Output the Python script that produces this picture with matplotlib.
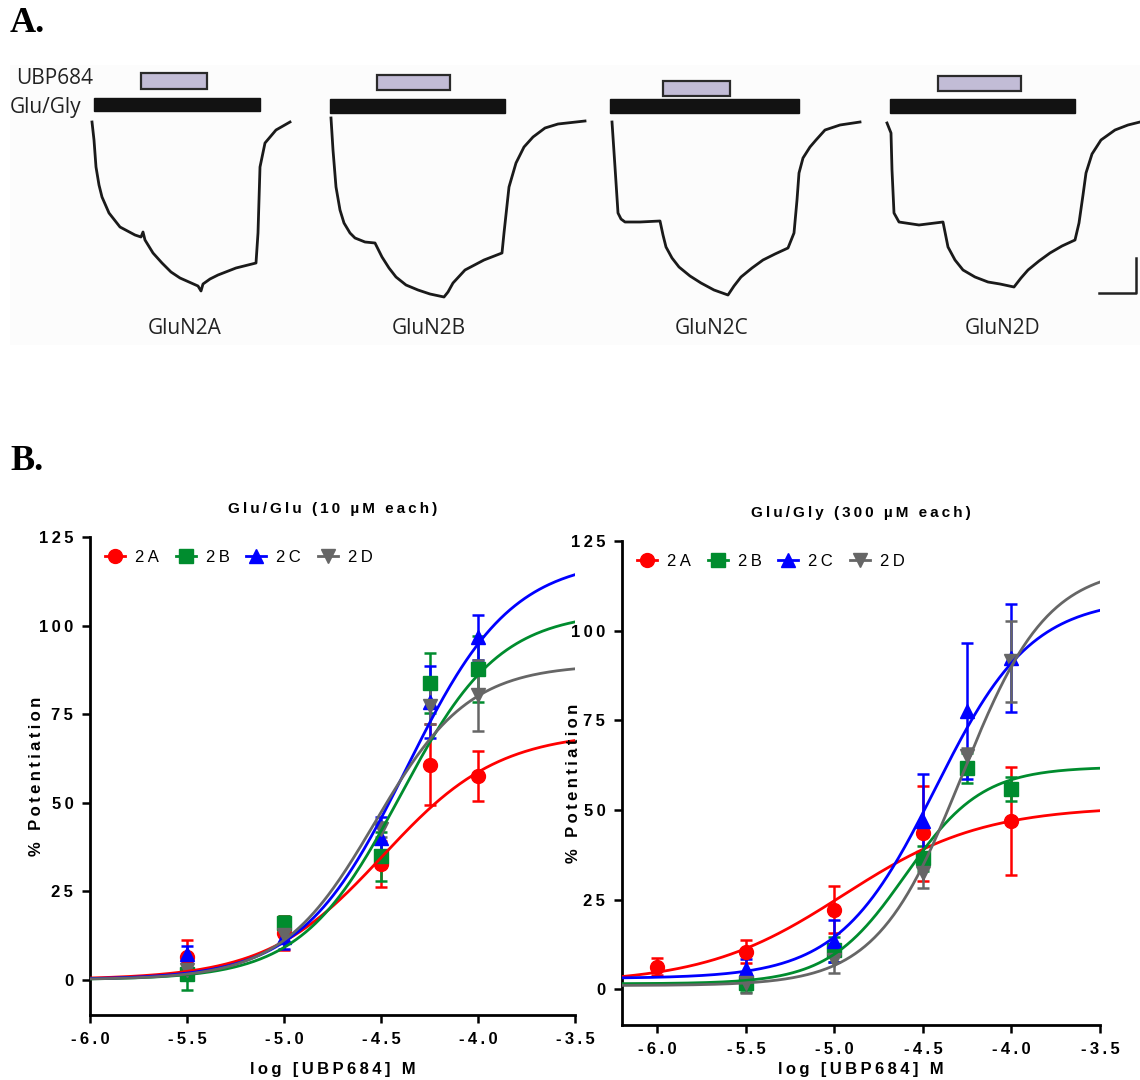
import numpy as np
import matplotlib.pyplot as plt
from matplotlib.patches import Rectangle
from matplotlib.lines import Line2D

plt.rcParams['font.family'] = ['Liberation Sans', 'DejaVu Sans']
plt.rcParams['axes.unicode_minus'] = False

# ---------------- panel A: example current traces (figure pixel units) ----------------
receptors = ["GluN2A", "GluN2B", "GluN2C", "GluN2D"]
receptor_label_x = [185, 429, 712, 1003]

trace_2a = [(92, 122), (94, 140), (96, 167), (99, 185), (102, 197), (109, 213), (120, 227),
            (135, 235), (141, 237), (143, 232), (145, 240), (153, 253), (162, 263), (171, 272),
            (180, 278), (189, 282), (198, 286), (201, 291), (203, 284), (210, 279), (218, 275),
            (236, 268), (256, 263), (258, 233), (260, 167), (265, 143), (276, 130), (290, 122)]
trace_2b = [(331, 118), (333, 150), (336, 187), (340, 210), (344, 223), (350, 233), (355, 238),
            (365, 242), (375, 243), (382, 257), (389, 268), (396, 277), (406, 285), (418, 290),
            (430, 294), (444, 297), (448, 292), (453, 283), (465, 270), (484, 260), (502, 253),
            (504, 233), (509, 187), (516, 163), (524, 147), (533, 137), (545, 128), (558, 124),
            (585, 121)]
trace_2c = [(612, 122), (615, 167), (618, 213), (621, 219), (625, 222), (640, 222), (660, 221),
            (663, 235), (666, 247), (672, 258), (679, 267), (690, 276), (701, 283), (714, 290),
            (728, 295), (734, 286), (741, 277), (752, 268), (763, 260), (775, 254), (788, 248),
            (794, 233), (797, 200), (799, 173), (803, 158), (810, 147), (816, 140), (825, 130),
            (840, 125), (860, 122)]
trace_2d = [(887, 123), (891, 133), (892, 170), (894, 213), (899, 222), (919, 225), (943, 222),
            (948, 247), (955, 260), (963, 270), (975, 277), (988, 282), (1000, 284), (1014, 287),
            (1021, 278), (1028, 270), (1039, 261), (1050, 253), (1062, 246), (1075, 240),
            (1079, 223), (1083, 195), (1086, 173), (1092, 154), (1101, 140), (1115, 130),
            (1128, 125), (1140, 122)]
traces = [trace_2a, trace_2b, trace_2c, trace_2d]

# stimulus bars: (left, top, width, height)
glu_bars = [(94, 98, 166, 13), (330, 99, 175, 14), (610, 99, 189, 14), (890, 99, 185, 14)]
ubp_bars = [(141, 73, 66, 16), (377, 75, 73, 15), (663, 81, 67, 15), (938, 76, 83, 15)]

# ---------------- panel B: concentration-response data ----------------
conc_left = [-5.5, -5.0, -4.5, -4.25, -4.0]
left_2a = [6.4, 13.2, 32.6, 60.7, 57.6]
left_2a_err = [4.8, 4.9, 6.5, 11.4, 7.1]
left_2b = [1.7, 16.0, 34.8, 83.7, 87.8]
left_2b_err = [4.7, 2.0, 7.0, 8.5, 9.3]
left_2c = [7.3, 12.0, 40.0, 78.5, 96.7]
left_2c_err = [2.3, 3.3, 5.8, 10.2, 6.4]
left_2d = [2.6, 12.5, 42.4, 77.2, 80.3]
left_2d_err = [2.0, 2.0, 2.0, 5.0, 10.1]

conc_right_2a = [-6.0, -5.5, -5.0, -4.5, -4.0]
right_2a = [6.3, 10.5, 22.2, 43.5, 46.8]
right_2a_err = [2.3, 3.2, 6.5, 13.3, 15.1]
conc_right = [-5.5, -5.0, -4.5, -4.25, -4.0]
right_2b = [1.6, 11.0, 36.5, 61.8, 55.9]
right_2b_err = [2.5, 3.5, 3.5, 4.2, 3.4]
right_2c = [5.5, 13.5, 47.0, 77.5, 92.4]
right_2c_err = [3.0, 5.9, 12.9, 19.0, 15.0]
right_2d = [1.6, 8.0, 32.3, 65.0, 91.4]
right_2d_err = [2.8, 3.5, 4.0, 2.4, 11.3]

# fitted Hill curves: bottom, top, logEC50, slope (2A, 2B, 2C, 2D)
left_bottom = [0, 0, 0, 0]
left_top = [70, 104, 119, 89]
left_ec50 = [-4.49, -4.40, -4.37, -4.53]
left_hill = [1.45, 1.7, 1.6, 1.8]
right_bottom = [1.5, 1.5, 3.0, 1.0]
right_top = [51, 62, 109, 118]
right_ec50 = [-4.95, -4.60, -4.43, -4.28]
right_hill = [1.1, 2.0, 1.6, 1.8]

subunits = ["2A", "2B", "2C", "2D"]
colors = ["#ff0000", "#008c2e", "#0000ff", "#666666"]
markers = ["o", "s", "^", "v"]

yticks = [0, 25, 50, 75, 100, 125]
xticks = [-6.0, -5.5, -5.0, -4.5, -4.0, -3.5]
xtick_labels = ["-6.0", "-5.5", "-5.0", "-4.5", "-4.0", "-3.5"]


def spaced(s):
    # GraphPad-style letter spacing
    return "\u2009".join(s)


def hill(x, bottom, top, ec50, n):
    return bottom + (top - bottom) / (1 + 10 ** ((ec50 - x) * n))


fig = plt.figure(figsize=(11.4, 10.8), dpi=100)

# ---- panel A ----
axA = fig.add_axes([0, 0, 1, 1])
axA.set_xlim(0, 1140)
axA.set_ylim(1080, 0)
axA.axis("off")
axA.add_patch(Rectangle((10, 65), 1130, 280, facecolor="#fcfcfc", edgecolor="none", zorder=0))
for tr in traces:
    axA.plot([p[0] for p in tr], [p[1] for p in tr], color="#1a1a1a", lw=2.0, zorder=2)
for (l, t, w, h) in glu_bars:
    axA.add_patch(Rectangle((l, t), w, h, facecolor="#121212", edgecolor="#121212", zorder=2))
for (l, t, w, h) in ubp_bars:
    axA.add_patch(Rectangle((l, t), w, h, facecolor="#c2bcd6", edgecolor="#2a2a2a", lw=1.6, zorder=2))
for name, x in zip(receptors, receptor_label_x):
    axA.text(x, 328, name, fontsize=15, family="Open Sans", ha="center", va="center", color="#222222")
axA.text(16, 78, "UBP684", fontsize=15, family="Open Sans", ha="left", va="center", color="#222222")
axA.text(10, 107, "Glu/Gly", fontsize=15, family="Open Sans", ha="left", va="center", color="#222222")
# scale bar
axA.plot([1099, 1136, 1136], [293, 293, 258], color="#222222", lw=1.8)
axA.text(10, 24, "A.", fontsize=26, family="Liberation Serif", weight="bold", va="center")
axA.text(10, 462, "B.", fontsize=26, family="Liberation Serif", weight="bold", va="center")


def style_axes(ax, xmin, title, ylab_x, xlab_y):
    ax.set_xlim(xmin, -3.5)
    ax.set_ylim(-10, 125)
    for s in ["top", "right"]:
        ax.spines[s].set_visible(False)
    for s in ["left", "bottom"]:
        ax.spines[s].set_linewidth(2)
    ax.set_yticks(yticks)
    ax.set_yticklabels([spaced(str(v)) for v in yticks])
    ax.set_xticks(xticks)
    ax.set_xticklabels([spaced(s) for s in xtick_labels])
    ax.tick_params(length=6, width=1.8, labelsize=12, pad=6)
    for lab in ax.get_xticklabels() + ax.get_yticklabels():
        lab.set_fontweight("bold")
    ax.set_xlabel(spaced("log [UBP684] M"), fontsize=12, weight="bold")
    ax.set_ylabel(spaced("% Potentiation"), fontsize=12, weight="bold")
    ax.yaxis.set_label_coords(ylab_x, 0.5)
    ax.xaxis.set_label_coords(0.5, xlab_y)
    ax.set_title(spaced(title), fontsize=11, weight="bold", pad=17)
    ax.patch.set_alpha(0)


def draw_panel(ax, xs_list, ys_list, errs_list, bottoms, tops, ec50s, hills, xmin):
    xfit = np.linspace(xmin, -3.5, 300)
    for i in range(4):
        ax.errorbar(xs_list[i], ys_list[i], yerr=errs_list[i], fmt=markers[i], color=colors[i],
                    ms=10, capsize=4, elinewidth=1.8, capthick=1.8, zorder=3)
        ax.plot(xfit, hill(xfit, bottoms[i], tops[i], ec50s[i], hills[i]), color=colors[i],
                lw=2, zorder=4)
    handles = [Line2D([], [], color=colors[i], marker=markers[i], ms=10, lw=2) for i in range(4)]
    ax.legend(handles, [spaced(s) for s in subunits], ncol=4, frameon=False, loc="upper left",
              bbox_to_anchor=(0.0, 1.005), fontsize=12, handlelength=1.2, handletextpad=0.6,
              columnspacing=1.0)


axL = fig.add_axes([90 / 1140, 1 - 1015 / 1080, 485 / 1140, 478 / 1080])
draw_panel(axL, [conc_left] * 4, [left_2a, left_2b, left_2c, left_2d],
           [left_2a_err, left_2b_err, left_2c_err, left_2d_err],
           left_bottom, left_top, left_ec50, left_hill, -6.0)
style_axes(axL, -6.0, "Glu/Glu (10 µM each)", -0.095, -0.098)

axR = fig.add_axes([622 / 1140, 1 - 1025 / 1080, 478 / 1140, 484 / 1080])
draw_panel(axR, [conc_right_2a, conc_right, conc_right, conc_right],
           [right_2a, right_2b, right_2c, right_2d],
           [right_2a_err, right_2b_err, right_2c_err, right_2d_err],
           right_bottom, right_top, right_ec50, right_hill, -6.2)
style_axes(axR, -6.2, "Glu/Gly (300 µM each)", -0.086, -0.076)

fig.savefig("out.png", dpi=100)
